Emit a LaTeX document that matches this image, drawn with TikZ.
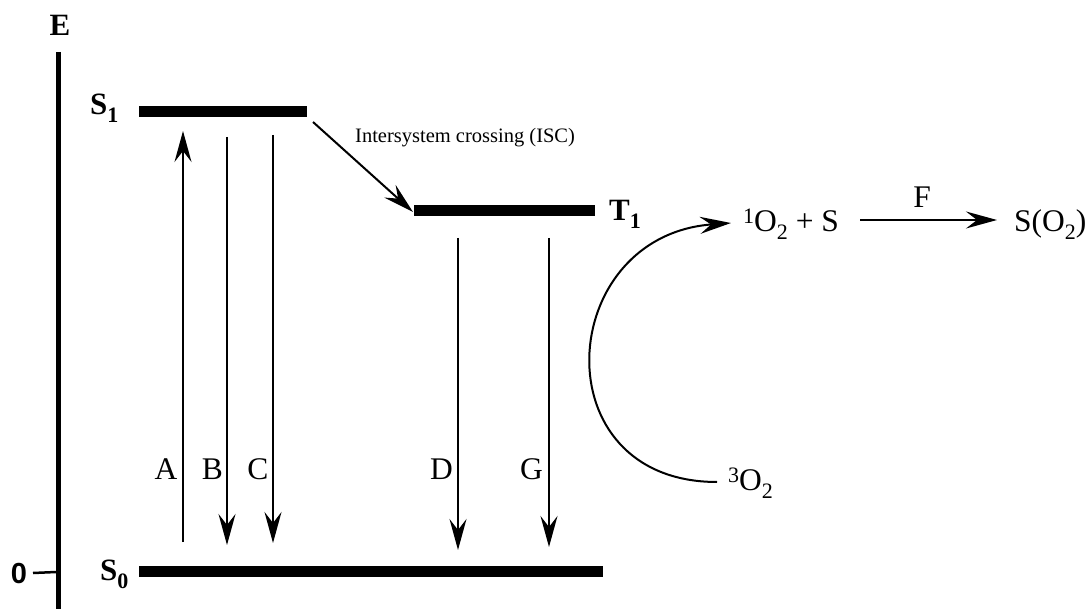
\documentclass[tikz,border=0pt]{standalone}
\usepackage{fontspec}
\setmainfont{Liberation Serif}
\newfontfamily\arialfont{Liberation Sans}
\usetikzlibrary{arrows.meta}
\newcommand\lsub[1]{\raisebox{-8pt}{\fontsize{22}{22}\selectfont #1}}
\newcommand\lsup[1]{\raisebox{8pt}{\fontsize{22}{22}\selectfont #1}}
\begin{document}
\begin{tikzpicture}[x=1pt,y=-1pt,
  level/.style={line width=11pt},
  axisline/.style={line width=5pt},
  trans/.style={line width=2pt,-{Stealth[length=31pt,width=17pt,inset=11pt]}},
  lab/.style={font=\fontsize{31.5}{31.5}\selectfont,inner sep=0pt},
  small/.style={font=\fontsize{20.5}{20.5}\selectfont,inner sep=0pt},
  blab/.style={font=\fontsize{31}{31}\selectfont\bfseries,inner sep=0pt}]
\useasboundingbox (0,0) rectangle (1090,609);
% axis
\coordinate (axtop) at (58,52);
\coordinate (axbot) at (58,609);
\draw[axisline] (axtop) -- (axbot);
\node[blab] (E) at (60,25) {E};
\coordinate (tick0) at (33,573);
\coordinate (tick1) at (56,572);
\draw[line width=2.5pt] (tick0) -- (tick1);
\node[font=\fontsize{29}{29}\selectfont\arialfont\bfseries,inner sep=0pt] (zero) at (19,574) {0};
% levels
\coordinate (s1a) at (139,112); \coordinate (s1b) at (307,112);
\coordinate (t1a) at (414,211); \coordinate (t1b) at (595,211);
\coordinate (s0a) at (139,571); \coordinate (s0b) at (603,571);
\draw[level] (s1a) -- (s1b);
\draw[level] (t1a) -- (t1b);
\draw[level] (s0a) -- (s0b);
\node[blab,anchor=base west] (S1) at (90,115) {S\lsub{1}};
\node[blab,anchor=base west] (T1) at (609,221) {T\lsub{1}};
\node[blab,anchor=base west] (S0) at (100,580) {S\lsub{0}};
% vertical transitions
\coordinate (Aa) at (183,542); \coordinate (Ab) at (183,131);
\coordinate (Ba) at (227,137); \coordinate (Bb) at (227,545);
\coordinate (Ca) at (273,135); \coordinate (Cb) at (273,543);
\coordinate (Da) at (458,238); \coordinate (Db) at (458,550);
\coordinate (Ga) at (549,238); \coordinate (Gb) at (549,547);
\draw[trans] (Aa) -- (Ab);
\draw[trans] (Ba) -- (Bb);
\draw[trans] (Ca) -- (Cb);
\draw[trans] (Da) -- (Db);
\draw[trans] (Ga) -- (Gb);
\node[lab,anchor=base] (A) at (166,479) {A};
\node[lab,anchor=base] (B) at (212.5,479) {B};
\node[lab,anchor=base] (C) at (258,479) {C};
\node[lab,anchor=base] (D) at (441.5,479) {D};
\node[lab,anchor=base] (G) at (531.5,479) {G};
% ISC
\coordinate (isca) at (313,122); \coordinate (iscb) at (413,212);
\draw[trans] (isca) -- (iscb);
\node[small,anchor=base west] (isc) at (355,143) {Intersystem crossing (ISC)};
% oxygen
\node[lab,anchor=base west] (O3) at (728,490) {\lsup{3}O\lsub{2}};
\node[lab,anchor=base west] (O1) at (743,232) {\lsup{1}O\lsub{2} + S};
\node[lab,anchor=base west] (SO) at (1014,232) {S(O\lsub{2})};
\coordinate (c0) at (717,482);
\coordinate (c1) at (731,223);
\draw[trans] (c0) .. controls (540,482) and (555,236) .. (c1);
\coordinate (fa) at (860,220); \coordinate (fb) at (997,220);
\draw[trans] (fa) -- (fb);
\node[lab,anchor=base] (F) at (922,208) {F};
\end{tikzpicture}
\end{document}
